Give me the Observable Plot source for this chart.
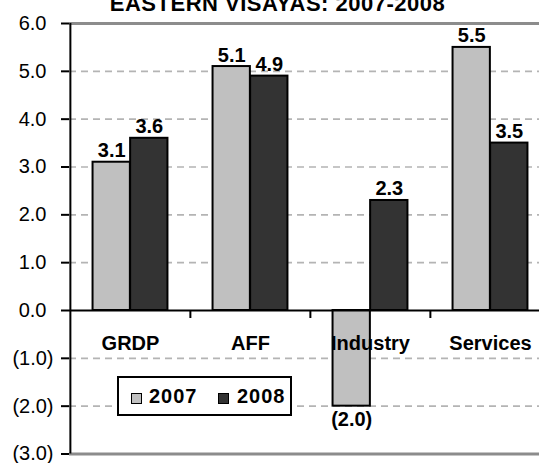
<!DOCTYPE html>
<html>
<head>
<meta charset="utf-8">
<script src="https://cdn.jsdelivr.net/npm/d3@7"></script>
<script src="https://cdn.jsdelivr.net/npm/@observablehq/plot@0.6"></script>
<style>
  body { margin: 0; background: #fff; }
  #wrap { position: relative; width: 539px; height: 463px; overflow: hidden; font-family: Arial, "Liberation Sans", sans-serif; }
  #title { position: absolute; left: 0; width: 555px; top: -7px; text-align: center; font-weight: bold; font-size: 22px; line-height: 22px; letter-spacing: 0.5px; }
  #legend { position: absolute; left: 117px; top: 376px; width: 175px; height: 40px; box-sizing: border-box; border: 2px solid #000; background: #fff; font-weight: bold; font-size: 20px; }
  .sw { position: absolute; top: 15px; width: 11px; height: 11px; box-sizing: border-box; border: 1.5px solid #000; }
  .lt { position: absolute; top: 6px; letter-spacing: 1px; line-height: 24px; }
</style>
</head>
<body>
<div id="wrap">
  <div id="chart"></div>
  <div id="title"></div>
  <div id="legend"></div>
</div>
<script>
const title = "EASTERN VISAYAS: 2007-2008";
const categories = ["GRDP", "AFF", "Industry", "Services"];
const years = ["2007", "2008"];
const values2007 = [3.1, 5.1, -2.0, 5.5];
const values2008 = [3.6, 4.9, 2.3, 3.5];
const yTicks = [-3, -2, -1, 0, 1, 2, 3, 4, 5, 6];
const colors = ["#c0c0c0", "#333333"];

const fmt = d => d < 0 ? `(${(-d).toFixed(1)})` : d.toFixed(1);

const W = 539, H = 463;
const mL = 69, mR = -11, mT = 23, mB = 9.5;
const bw = (W - mL - mR) / categories.length;
const barW = bw * 0.3125;

const rows = [];
categories.forEach((c, i) => {
  rows.push({category: c, year: years[0], value: values2007[i]});
  rows.push({category: c, year: years[1], value: values2008[i]});
});
const r07 = rows.filter(d => d.year === years[0]);
const r08 = rows.filter(d => d.year === years[1]);
const yMin = d3.min(yTicks), yMax = d3.max(yTicks);
const gridTicks = yTicks.filter(t => t !== 0 && t !== yMin && t !== yMax);

function labels(data, dx) {
  return [
    Plot.text(data.filter(d => d.value >= 0), {x: "category", y: "value", text: d => fmt(d.value), dx, dy: -5, lineAnchor: "bottom", fontWeight: "bold", fontSize: 20, fill: "#000"}),
    Plot.text(data.filter(d => d.value < 0), {x: "category", y: "value", text: d => fmt(d.value), dx, dy: 6, lineAnchor: "top", fontWeight: "bold", fontSize: 20, fill: "#000"})
  ];
}

const chart = Plot.plot({
  width: W, height: H,
  marginLeft: mL, marginRight: mR, marginTop: mT, marginBottom: mB,
  style: {fontFamily: 'Arial, "Liberation Sans", sans-serif', fontSize: "20px", background: "#fff", color: "#000"},
  x: {domain: categories, padding: 0, axis: null},
  y: {domain: [yMin, yMax], axis: null},
  marks: [
    Plot.ruleY(gridTicks, {stroke: "#b4b4b4", strokeWidth: 1.6, strokeDasharray: "7,5"}),
    Plot.ruleY([yMin, yMax], {stroke: "#8c8c8c", strokeWidth: 3}),
    Plot.barY(r07, {x: "category", y: "value", fill: colors[0], stroke: "#000", strokeWidth: 2, insetLeft: bw / 2 - barW, insetRight: bw / 2}),
    Plot.barY(r08, {x: "category", y: "value", fill: colors[1], stroke: "#000", strokeWidth: 2, insetLeft: bw / 2, insetRight: bw / 2 - barW}),
    Plot.ruleY([0], {stroke: "#000", strokeWidth: 2}),
    Plot.ruleX(categories.slice(1), {y1: 0, y2: 0, insetBottom: -8, dx: -bw / 2, stroke: "#000", strokeWidth: 2}),
    Plot.ruleX([categories[0]], {y1: yMin, y2: yMax, dx: -bw / 2, stroke: "#000", strokeWidth: 2}),
    Plot.axisY({ticks: yTicks.filter(t => t < 0), tickFormat: fmt, tickSize: 8, tickPadding: 8, fontSize: 20, strokeWidth: 2, stroke: "#000", fill: "#000", label: null}),
    Plot.axisY({ticks: yTicks.filter(t => t >= 0), tickFormat: fmt, tickSize: 8, tickPadding: 15, fontSize: 20, strokeWidth: 2, stroke: "#000", fill: "#000", label: null}),
    Plot.text(categories, {x: d => d, y: () => 0, text: d => d, dy: 25, lineAnchor: "top", fontWeight: "bold", fontSize: 20, fill: "#000", letterSpacing: 0.5}),
    ...labels(r07, -barW / 2),
    ...labels(r08, barW / 2)
  ]
});
document.getElementById("chart").appendChild(chart);
document.getElementById("title").textContent = title;

const legend = document.getElementById("legend");
const swX = [12, 99], txX = [30, 118];
years.forEach((y, i) => {
  const s = document.createElement("div");
  s.className = "sw"; s.style.left = swX[i] + "px"; s.style.background = colors[i];
  const t = document.createElement("div");
  t.className = "lt"; t.style.left = txX[i] + "px"; t.textContent = y;
  legend.appendChild(s); legend.appendChild(t);
});
</script>
</body>
</html>
